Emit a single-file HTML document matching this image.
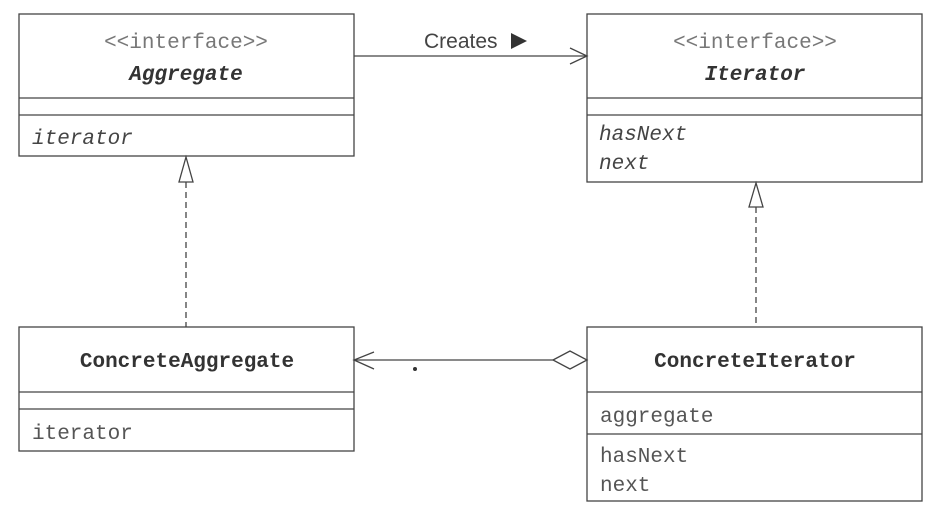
<!DOCTYPE html>
<html><head><style>html,body{margin:0;padding:0;background:#fff;}svg{display:block}</style></head>
<body>
<svg width="938" height="520" viewBox="0 0 938 520" xmlns="http://www.w3.org/2000/svg">
<g fill="none" stroke="#444" stroke-width="1.3">
<rect x="19" y="14" width="335" height="142"/>
<line x1="19" y1="98" x2="354" y2="98"/>
<line x1="19" y1="115" x2="354" y2="115"/>
<rect x="587" y="14" width="335" height="168"/>
<line x1="587" y1="98" x2="922" y2="98"/>
<line x1="587" y1="115" x2="922" y2="115"/>
<rect x="19" y="327" width="335" height="124"/>
<line x1="19" y1="392" x2="354" y2="392"/>
<line x1="19" y1="409" x2="354" y2="409"/>
<rect x="587" y="327" width="335" height="174"/>
<line x1="587" y1="392" x2="922" y2="392"/>
<line x1="587" y1="434" x2="922" y2="434"/>
<line x1="354" y1="56" x2="587" y2="56"/>
<polyline points="570,48 587,56 570,64"/>
<polygon points="186,157 179,182 193,182"/>
<line x1="186" y1="182" x2="186" y2="327" stroke-dasharray="6,4"/>
<polygon points="756,183 749,207 763,207"/>
<line x1="756" y1="207" x2="756" y2="327" stroke-dasharray="6,4"/>
<line x1="354" y1="360" x2="553" y2="360"/>
<polyline points="374,352 354,360 374,369"/>
<polygon points="553,360 570,351 587,360 570,369"/>
</g>
<circle cx="415" cy="369" r="2" fill="#333"/>
<polygon points="511,33 527,41 511,49" fill="#333"/>
<g font-family="Liberation Mono, monospace" font-size="21" fill="#444">
<text x="186" y="48" text-anchor="middle" fill="#777">&lt;&lt;interface&gt;&gt;</text>
<text x="186" y="80" text-anchor="middle" font-weight="bold" font-style="italic" fill="#333">Aggregate</text>
<text x="32" y="144" font-style="italic">iterator</text>
<text x="755" y="48" text-anchor="middle" fill="#777">&lt;&lt;interface&gt;&gt;</text>
<text x="755" y="80" text-anchor="middle" font-weight="bold" font-style="italic" fill="#333">Iterator</text>
<text x="599" y="140" font-style="italic">hasNext</text>
<text x="599" y="169" font-style="italic">next</text>
<text x="187" y="367" text-anchor="middle" font-weight="bold" fill="#333">ConcreteAggregate</text>
<text x="32" y="439" fill="#555">iterator</text>
<text x="755" y="367" text-anchor="middle" font-weight="bold" fill="#333">ConcreteIterator</text>
<text x="600" y="422" fill="#555">aggregate</text>
<text x="600" y="462" fill="#555">hasNext</text>
<text x="600" y="491" fill="#555">next</text>
</g>
<text x="424" y="48" font-family="Liberation Sans, sans-serif" font-size="21" fill="#444">Creates</text>
</svg>
</body></html>
